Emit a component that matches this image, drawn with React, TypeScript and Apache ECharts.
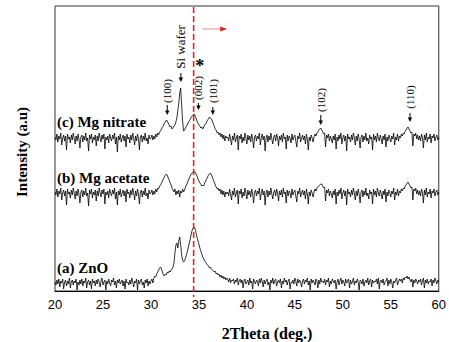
import { useEffect, useRef } from "react";
import * as echarts from "echarts";

// 2Theta sampling grid: 20.0 .. 60.0 deg, step 0.1 deg (401 samples)
const X_START = 20;
const X_STEP = 0.1;

const xTickValues = [20, 25, 30, 35, 40, 45, 50, 55, 60];

// (c) Mg nitrate (offset trace, arbitrary units)
const mgNitrate = [
  // 20.0 - 29.9
  154,151,157,149,155,152,158,146,153,156,
  150,155,141,157,152,154,148,156,151,158,
  153,147,155,150,157,152,143,154,156,149,
  155,151,158,150,153,140,156,152,157,148,
  154,151,156,145,155,150,158,153,149,156,
  152,157,142,154,151,155,148,157,153,150,
  156,152,158,147,154,139,155,151,157,149,
  153,156,150,155,144,157,152,154,148,156,
  151,158,153,146,155,150,157,152,141,154,
  156,149,155,151,158,150,153,147,156,152,
  // 30.0 - 37.9
  153,156,151,155,152,157,154,158,156,159,
  160,162,164,165,168,169,171,170,168,166,
  164,165,162,163,165,166,169,173,180,188,
  198,203,186,170,160,161,163,165,166,169,
  170,172,174,175,176,177,175,173,170,168,
  166,165,163,164,162,164,166,167,169,171,
  172,174,173,172,170,167,165,162,161,158,
  159,156,158,154,157,152,156,150,155,153,
  // 38.0 - 46.9
  154,150,157,152,146,155,151,158,149,153,
  156,141,155,152,157,148,154,150,158,153,
  147,156,151,155,149,157,152,143,154,156,
  150,155,152,158,146,153,157,151,155,140,
  153,156,149,155,151,158,152,147,154,156,
  150,157,153,145,155,151,156,149,158,152,
  154,142,156,150,155,153,148,157,151,154,
  156,150,144,155,152,158,149,153,156,151,
  155,147,157,152,141,154,150,156,153,149,
  // 47.0 - 48.9
  154,157,155,158,159,161,162,163,161,159,
  157,158,144,156,153,157,150,155,152,148,
  // 49.0 - 55.9
  155,151,157,142,154,150,156,152,158,147,
  153,156,150,155,140,157,152,154,149,156,
  151,158,153,146,155,150,157,152,143,154,
  156,149,155,151,158,150,153,147,156,152,
  154,141,157,151,155,149,158,153,150,156,
  152,147,155,151,157,144,154,150,156,153,
  149,155,152,158,146,154,151,157,150,155,
  // 56.0 - 57.9
  153,157,155,158,157,160,161,163,164,162,
  160,158,159,145,157,155,158,152,156,151,
  // 58.0 - 60.0
  155,150,157,153,143,156,151,158,149,154,
  152,157,148,155,153,157,150,154,156,151,154,
];

// (b) Mg acetate
const mgAcetate = [
  // 20.0 - 29.9
  99,96,102,94,100,97,103,91,98,101,
  95,100,86,102,97,99,93,101,96,103,
  98,92,100,95,102,97,88,99,101,94,
  100,96,103,95,98,85,101,97,102,93,
  99,96,101,90,100,95,103,98,94,101,
  97,102,87,99,96,100,93,102,98,95,
  101,97,103,92,99,86,100,96,102,94,
  98,101,95,100,89,102,97,99,93,101,
  96,103,98,91,100,95,102,97,87,99,
  101,94,100,96,103,95,98,92,101,97,
  // 30.0 - 37.9
  98,101,96,100,97,102,99,103,102,105,
  106,108,110,112,114,116,117,116,113,111,
  108,106,103,101,99,102,96,100,97,101,
  94,100,98,102,99,101,104,106,108,111,
  113,115,117,118,119,120,119,117,115,112,
  110,108,107,105,106,105,108,110,112,114,
  116,117,118,116,114,111,109,106,104,102,
  103,100,102,97,101,96,100,94,99,97,
  // 38.0 - 46.9
  99,95,102,97,91,100,96,103,94,98,
  101,87,100,97,102,93,99,95,103,98,
  92,101,96,100,94,102,97,88,99,101,
  95,100,97,103,91,98,102,96,100,86,
  98,101,94,100,96,103,97,92,99,101,
  95,102,98,90,100,96,101,94,103,97,
  99,88,101,95,100,98,93,102,96,99,
  101,95,89,100,97,103,94,98,101,96,
  100,92,102,97,87,99,95,101,98,94,
  // 47.0 - 48.9
  99,102,100,103,104,105,106,107,107,105,
  103,104,90,101,98,102,95,100,97,93,
  // 49.0 - 55.9
  100,96,102,87,99,95,101,97,103,92,
  98,101,95,100,86,102,97,99,94,101,
  96,103,98,91,100,95,102,97,88,99,
  101,94,100,96,103,95,98,92,101,97,
  99,87,102,96,100,94,103,98,95,101,
  97,92,100,96,102,89,99,95,101,98,
  94,100,97,103,91,99,96,102,95,100,
  // 56.0 - 57.9
  98,102,100,103,102,105,106,108,109,107,
  105,103,104,91,102,100,103,97,101,96,
  // 58.0 - 60.0
  100,95,102,98,88,101,96,103,94,99,
  97,102,93,100,98,102,95,99,101,96,99,
];

// (a) ZnO
const zno = [
  // 20.0 - 29.9
  9,6,11,7,12,4,10,8,12,2,
  9,11,5,10,7,13,3,9,11,6,
  10,8,12,1,9,6,11,7,12,5,
  10,8,13,3,9,11,6,10,2,12,
  8,10,5,11,7,12,9,4,10,13,
  6,9,11,1,10,7,12,8,5,11,
  9,13,6,10,3,11,8,12,7,9,
  11,5,10,2,12,8,9,6,11,7,
  13,9,4,10,8,12,1,11,7,10,
  12,6,9,3,11,8,12,5,10,7,
  // 30.0 - 37.9
  10,12,8,13,15,14,17,19,21,23,
  24,22,19,16,15,17,16,19,18,20,
  19,21,22,24,28,38,46,48,43,50,
  54,46,36,31,29,30,33,36,40,44,
  48,52,57,61,63,64,62,58,54,50,
  47,43,40,37,34,32,30,29,27,26,
  25,23,24,22,21,20,19,20,17,18,
  16,17,14,16,13,15,12,14,11,13,
  // 38.0 - 47.9
  12,9,13,8,11,10,12,7,11,9,
  13,6,10,12,8,11,3,10,12,7,
  9,11,6,13,8,10,2,12,9,7,
  11,10,5,12,8,13,9,4,11,7,
  10,12,6,9,1,11,8,13,7,10,
  12,5,9,11,8,12,3,10,7,13,
  9,11,6,10,12,2,9,8,11,7,
  13,10,5,12,8,11,9,4,10,12,
  7,11,9,13,6,10,1,12,8,11,
  9,6,12,10,3,11,7,13,9,10,
  // 48.0 - 55.9
  8,12,6,11,9,13,4,10,7,12,
  10,8,11,2,9,12,6,10,13,7,
  11,9,5,12,8,10,12,3,11,7,
  9,13,6,10,8,12,9,1,11,10,
  7,12,5,9,11,8,13,6,10,12,
  4,11,8,10,9,12,7,13,2,10,
  11,8,12,6,9,10,13,5,11,7,
  12,9,3,10,8,11,13,6,9,12,
  // 56.0 - 57.9
  10,12,8,13,11,14,13,15,12,14,
  11,9,12,4,11,8,12,10,7,11,
  // 58.0 - 60.0
  9,12,6,10,13,3,11,8,12,7,
  10,9,12,5,11,8,13,10,7,11,9,
];

const sampleNames = ["(c) Mg nitrate", "(b) Mg acetate", "(a) ZnO"];
const sampleLabelLevels = [169, 113, 23];

const peakNames = ["Si wafer", "(100)", "(002)", "(101)", "(102)", "(110)"];
const peakX = [33.12, 31.7, 34.95, 36.45, 47.7, 57.0];
const peakTextLevel = [244, 200, 203, 200, 191, 194];
const peakArrowTop = [218, 186, 188, 184, 176, 178];
const peakArrowBottom = [209, 176, 181, 176, 166, 169];

const shiftLineX = 34.45;

const SERIF = '"Liberation Serif", "Times New Roman", serif';
const SANS = '"Liberation Sans", Arial, sans-serif';

function toPairs(vals: number[]) {
  return vals.map((v, i) => [+(X_START + i * X_STEP).toFixed(2), v]);
}

export default function App() {
  const ref = useRef<HTMLDivElement>(null);
  useEffect(() => {
    if (!ref.current) return;
    const chart = echarts.init(ref.current, undefined, { renderer: "svg" });
    const lineStyle = { color: "#000", width: 0.8 };
    chart.setOption({
      animation: false,
      grid: {
        left: 55,
        right: 10,
        top: 6,
        bottom: 51,
        show: true,
        borderColor: "#333",
        borderWidth: 1,
        backgroundColor: "transparent",
      },
      xAxis: {
        type: "value",
        min: 20,
        max: 60,
        interval: 5,
        axisLine: { show: true, lineStyle: { color: "#000", width: 1 } },
        axisTick: { show: false },
        splitLine: { show: false },
        axisLabel: {
          color: "#000",
          fontSize: 13,
          fontFamily: SANS,
          margin: 7,
          customValues: xTickValues,
        },
      },
      yAxis: {
        type: "value",
        min: 0,
        max: 285,
        show: false,
        splitLine: { show: false },
      },
      series: [
        { type: "line", data: toPairs(zno), showSymbol: false, lineStyle, z: 3 },
        { type: "line", data: toPairs(mgAcetate), showSymbol: false, lineStyle, z: 3 },
        { type: "line", data: toPairs(mgNitrate), showSymbol: false, lineStyle, z: 3 },
      ],
    });

    const p = (x: number, y: number) =>
      chart.convertToPixel({ gridIndex: 0 }, [x, y]) as number[];

    const els: any[] = [];
    // dashed red reference line
    const top = p(shiftLineX, 285);
    const bot = p(shiftLineX, 0);
    els.push({
      type: "line",
      shape: { x1: top[0], y1: top[1] + 1, x2: bot[0], y2: bot[1] + 6 },
      style: { stroke: "#e5231f", lineWidth: 1.6, lineDash: [6, 3] },
      z: 10,
    });
    // red shift arrow
    const a0 = p(shiftLineX + 0.9, 262);
    const a1 = p(shiftLineX + 3.5, 262);
    els.push({
      type: "line",
      shape: { x1: a0[0], y1: a0[1], x2: a1[0] - 4, y2: a1[1] },
      style: { stroke: "#f08a8a", lineWidth: 1 },
      z: 10,
    });
    els.push({
      type: "polygon",
      shape: { points: [[a1[0] - 7, a1[1] - 2.6], [a1[0] - 7, a1[1] + 2.6], [a1[0], a1[1]]] },
      style: { fill: "#e5231f" },
      z: 10,
    });

    // sample labels
    sampleNames.forEach((name, i) => {
      const pt = p(20, sampleLabelLevels[i]);
      els.push({
        type: "text",
        x: pt[0] + 2,
        y: pt[1],
        style: {
          text: name,
          font: `bold 15px ${SERIF}`,
          fill: "#000",
          align: "left",
          verticalAlign: "middle",
          textAlign: "left",
          textVerticalAlign: "middle",
        },
        z: 12,
      });
    });

    // peak annotations
    peakNames.forEach((name, i) => {
      const t = p(peakX[i], peakTextLevel[i]);
      els.push({
        type: "text",
        x: t[0],
        y: t[1],
        rotation: Math.PI / 2,
        style: {
          text: name,
          font: `${i === 0 ? 13 : 11}px ${SERIF}`,
          fill: "#000",
          align: "center",
          verticalAlign: "middle",
          textAlign: "center",
          textVerticalAlign: "middle",
        },
        z: 12,
      });
      const at = p(peakX[i], peakArrowTop[i]);
      const ab = p(peakX[i], peakArrowBottom[i]);
      els.push({
        type: "line",
        shape: { x1: at[0], y1: at[1], x2: ab[0], y2: ab[1] - 3 },
        style: { stroke: "#000", lineWidth: 1 },
        z: 12,
      });
      els.push({
        type: "polygon",
        shape: { points: [[ab[0] - 2.2, ab[1] - 4.5], [ab[0] + 2.2, ab[1] - 4.5], [ab[0], ab[1]]] },
        style: { fill: "#000" },
        z: 12,
      });
    });

    // star marking the (002) peak
    const s = p(35.1, 225);
    els.push({
      type: "text",
      x: s[0],
      y: s[1],
      style: {
        text: "*",
        font: `bold 18px ${SERIF}`,
        fill: "#000",
        align: "center",
        verticalAlign: "middle",
        textAlign: "center",
        textVerticalAlign: "middle",
      },
      z: 12,
    });

    // axis titles
    els.push({
      type: "text",
      x: 22,
      y: 152,
      rotation: Math.PI / 2,
      style: {
        text: "Intensity (a.u)",
        font: `bold 15px ${SERIF}`,
        fill: "#000",
        align: "center",
        verticalAlign: "middle",
        textAlign: "center",
        textVerticalAlign: "middle",
      },
    });
    els.push({
      type: "text",
      x: 267,
      y: 333,
      style: {
        text: "2Theta (deg.)",
        font: `bold 16px ${SERIF}`,
        fill: "#000",
        align: "center",
        verticalAlign: "middle",
        textAlign: "center",
        textVerticalAlign: "middle",
      },
    });

    chart.setOption({ graphic: { elements: els } });
    return () => chart.dispose();
  }, []);
  return (
    <div
      ref={ref}
      style={{ position: "fixed", left: 0, top: 0, width: 449, height: 342, background: "#fff" }}
    />
  );
}
